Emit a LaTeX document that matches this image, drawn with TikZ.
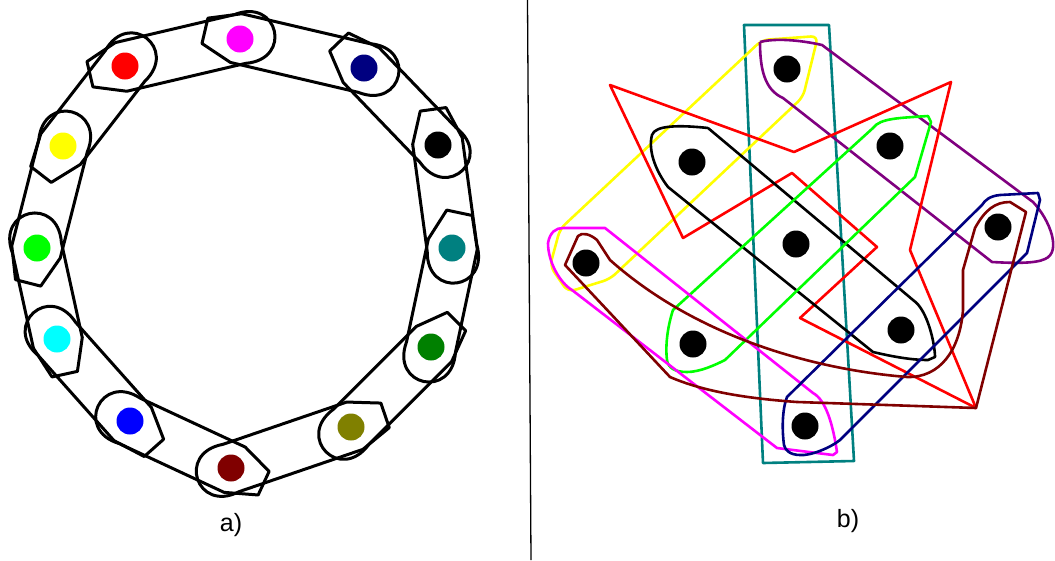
\documentclass[tikz,border=0pt]{standalone}
\usepackage{fontspec}
\setmainfont{Liberation Sans}
\usetikzlibrary{calc}
\definecolor{cNavy}{RGB}{0,0,128}
\definecolor{cTeal}{RGB}{0,128,128}
\definecolor{cDGreen}{RGB}{0,128,0}
\definecolor{cOlive}{RGB}{128,128,0}
\definecolor{cMaroon}{RGB}{128,0,0}
\definecolor{cPurple}{RGB}{128,0,128}
\definecolor{cGreen}{RGB}{0,255,0}
\definecolor{cCyan}{RGB}{0,255,255}
\definecolor{cYellow}{RGB}{255,255,0}
\definecolor{cMagenta}{RGB}{255,0,255}
\definecolor{cRed}{RGB}{255,0,0}
\definecolor{cBlue}{RGB}{0,0,255}
\begin{document}
\begin{tikzpicture}[x=1pt,y=-1pt,
  dot/.style={circle,inner sep=0pt,minimum size=27pt,draw=none},
  band/.style={line width=3pt,line join=round},
  hb/.style={line width=2.6pt,line join=round},
  lbl/.style={font=\fontsize{25}{28}\selectfont}]
\useasboundingbox (0,0) rectangle (1055,560);
\fill[white] (0,0) rectangle (1055,560);
% ---------- part a) ----------
\coordinate (pr) at (125,66);
\coordinate (pm) at (240,39);
\coordinate (pn) at (364,68);
\coordinate (pk) at (438,145);
\coordinate (pt) at (452,248);
\coordinate (pg) at (431,347);
\coordinate (po) at (351,427);
\coordinate (pw) at (231,468);
\coordinate (pb) at (130,421);
\coordinate (pc) at (57,339);
\coordinate (pe) at (37,248);
\coordinate (py) at (63,146);
\foreach \a/\b in {pr/pm,pm/pn,pn/pk,pk/pt,pt/pg,pg/po,po/pw,pw/pb,pb/pc,pc/pe,pe/py,py/pr}{
  \draw[band] ($(\a)!-4pt!(\b)!25pt!90:(\b)$)
    -- ($(\a)!-36pt!(\b)!13pt!90:(\b)$)
    -- ($(\a)!-36pt!(\b)!13pt!-90:(\b)$)
    -- ($(\a)!-4pt!(\b)!25pt!-90:(\b)$)
    -- ($(\b)!25pt!90:(\a)$)
    .. controls ($(\b)!-47pt!(\a)!32pt!90:(\a)$) and ($(\b)!-47pt!(\a)!32pt!-90:(\a)$)
    .. ($(\b)!25pt!-90:(\a)$) -- cycle;
}
\node[dot,fill=cRed] (ar) at (pr) {};
\node[dot,fill=cMagenta] (am) at (pm) {};
\node[dot,fill=cNavy] (an) at (pn) {};
\node[dot,fill=black] (ak) at (pk) {};
\node[dot,fill=cTeal] (at) at (pt) {};
\node[dot,fill=cDGreen] (ag) at (pg) {};
\node[dot,fill=cOlive] (ao) at (po) {};
\node[dot,fill=cMaroon] (aw) at (pw) {};
\node[dot,fill=cBlue] (ab) at (pb) {};
\node[dot,fill=cCyan] (ac) at (pc) {};
\node[dot,fill=cGreen] (ae) at (pe) {};
\node[dot,fill=cYellow] (ay) at (py) {};
\node[lbl] (la) at (231,525) {a)};
% ---------- divider ----------
\coordinate (dtop) at (527.5,0);
\coordinate (dbot) at (531,560);
\draw[line width=1.3pt] (dtop) -- (dbot);
% ---------- part b) ----------
\draw[hb,cTeal] (744,25) -- (829,25) -- (854,461) -- (763,463) -- cycle;
\draw[hb,cYellow,rounded corners=7pt] (560,229) -- (762,40) -- (818,36) -- (803,97) -- (610,279) -- (568,292) -- (550,266) -- cycle;
\draw[hb,cPurple] (760,42) .. controls (775,38) and (800,40) .. (822,45) -- (1033,202)
  .. controls (1050,220) and (1062,252) .. (1045,259) .. controls (1035,264) and (1010,263) .. (992,262)
  -- (783,98) .. controls (765,90) and (760,70) .. (760,42);
\draw[hb,cRed] (610,85) -- (683,238) -- (792,173) -- (877,247) -- (800,318) -- (976,408) -- (910,250) -- (951,82) -- (794,152) -- cycle;
\draw[hb,black] (708,128) -- (913,300) .. controls (928,310) and (935,345) .. (935,357) -- (928,360)
  .. controls (910,360) and (890,356) .. (873,352) -- (668,187)
  .. controls (655,170) and (648,150) .. (652,135) .. controls (655,125) and (680,125) .. (708,128);
\draw[hb,cGreen] (873,128) .. controls (880,118) and (900,118) .. (928,116) -- (931,122) -- (915,177) -- (725,360)
  .. controls (715,365) and (700,372) .. (687,372) .. controls (675,372) and (668,368) .. (667,360)
  .. controls (665,345) and (668,325) .. (673,310) -- cycle;
\draw[hb,cMagenta] (548,243) .. controls (550,232) and (556,228) .. (563,228) -- (605,228) -- (813,393)
  .. controls (826,400) and (833,425) .. (837,452) -- (833,455) -- (777,448) -- (572,290)
  .. controls (560,283) and (548,262) .. (548,243);
\draw[hb,cNavy] (982,205) .. controls (985,200) and (990,196) .. (1000,195) -- (1038,193) -- (1040,200) -- (1027,253) -- (840,440)
  .. controls (830,448) and (810,456) .. (800,455) .. controls (790,455) and (785,450) .. (784,445)
  .. controls (782,430) and (782,410) .. (787,397) -- cycle;
\draw[hb,cMaroon] (565,265) -- (578,236) .. controls (582,232) and (590,234) .. (597,240) -- (610,260)
  .. controls (700,340) and (820,370) .. (907,377) .. controls (940,378) and (960,350) .. (963,310)
  -- (963,270) -- (975,228) .. controls (985,210) and (995,202) .. (1010,202) -- (1026,212)
  -- (976,408) -- (797,402) .. controls (740,398) and (700,390) .. (670,377) -- cycle;
\node[dot,fill=black] (b1) at (787,69) {};
\node[dot,fill=black] (b2) at (692,162) {};
\node[dot,fill=black] (b3) at (890,146) {};
\node[dot,fill=black] (b4) at (796,244) {};
\node[dot,fill=black] (b5) at (586,263) {};
\node[dot,fill=black] (b6) at (998,227) {};
\node[dot,fill=black] (b7) at (693,344) {};
\node[dot,fill=black] (b8) at (901,330) {};
\node[dot,fill=black] (b9) at (805,426) {};
\node[lbl] (lb) at (848,521) {b)};
\end{tikzpicture}
\end{document}
